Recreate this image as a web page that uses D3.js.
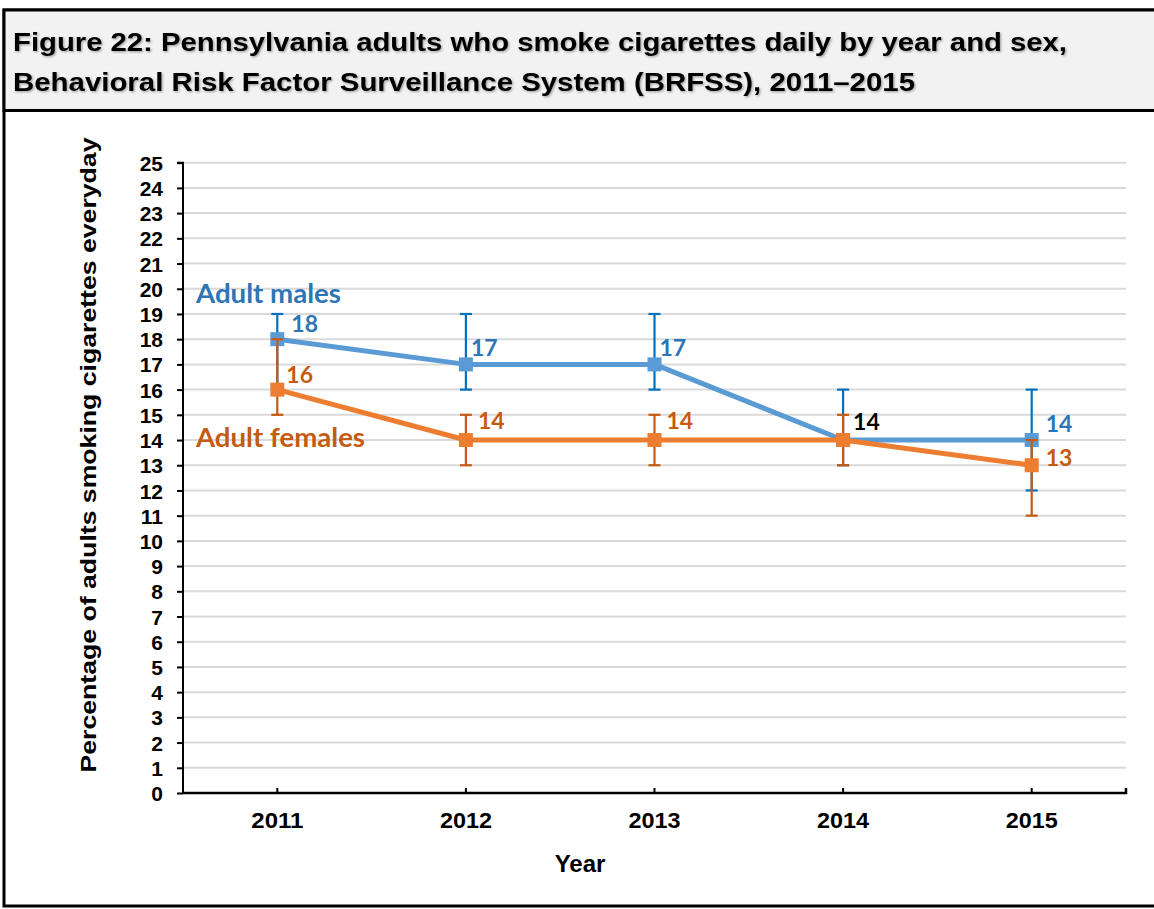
<!DOCTYPE html>
<html>
<head>
<meta charset="utf-8">
<script src="https://cdn.jsdelivr.net/npm/d3@7"></script>
<style>
  html, body { margin: 0; padding: 0; background: #ffffff; }
  svg { display: block; }
</style>
</head>
<body>
<svg id="chart" width="1154" height="909"></svg>
<script>
// ---- Data ----
const years = ["2011", "2012", "2013", "2014", "2015"];
const yTicks = d3.range(0, 26);
const malesValues = [18, 17, 17, 14, 14];
const malesLow = [16, 16, 16, 13, 12];
const malesHigh = [19, 19, 19, 16, 16];
const femalesValues = [16, 14, 14, 14, 13];
const femalesLow = [15, 13, 13, 13, 11];
const femalesHigh = [18, 15, 15, 15, 14];
const malesLabels = ["18", "17", "17", "14", "14"];
const femalesLabels = ["16", "14", "14", "", "13"];
const titleLines = [
  "Figure 22: Pennsylvania adults who smoke cigarettes daily by year and sex,",
  "Behavioral Risk Factor Surveillance System (BRFSS), 2011\u20132015"
];
const yAxisTitle = "Percentage of adults smoking cigarettes everyday";
const xAxisTitle = "Year";
const seriesNames = ["Adult males", "Adult females"];

// ---- Layout ----
const svg = d3.select("#chart");
const W = 1154, H = 909;
const plot = { left: 183, right: 1126, top: 162.7, bottom: 793 };
const arial = "'Liberation Sans', Arial, sans-serif";
const calibri = "Lato, 'Open Sans', sans-serif";

const colors = {
  maleLine: "#5b9bd5", maleErr: "#0070c0", maleLabel: "#2e75b6",
  femaleLine: "#ed7d31", femaleErr: "#c55a11", femaleLabel: "#c55a11",
  grid: "#d9d9d9", titleBg: "#f2f2f2"
};

const defs = svg.append("defs");
const f = defs.append("filter").attr("id", "shadow").attr("x", "-5%").attr("y", "-20%").attr("width", "110%").attr("height", "140%");
f.append("feDropShadow").attr("dx", 1.2).attr("dy", 1.2).attr("stdDeviation", 0.8).attr("flood-color", "#000").attr("flood-opacity", 0.35);

// outer frame and title box
svg.append("rect").attr("x", 4).attr("y", 10).attr("width", W + 10).attr("height", 896)
  .attr("fill", "#fff").attr("stroke", "#000").attr("stroke-width", 3);
svg.append("rect").attr("x", 4).attr("y", 10).attr("width", W + 10).attr("height", 100.5)
  .attr("fill", colors.titleBg).attr("stroke", "#000").attr("stroke-width", 3);

const titleWidths = [1054, 902];
const titleBase = [51, 90.5];
titleLines.forEach((t, i) => {
  svg.append("text").attr("x", 13).attr("y", titleBase[i])
    .attr("font-family", arial).attr("font-weight", "bold").attr("font-size", 26)
    .attr("fill", "#000").attr("filter", "url(#shadow)")
    .attr("textLength", titleWidths[i]).attr("lengthAdjust", "spacingAndGlyphs").text(t);
});

// ---- Scales ----
const x = d3.scaleBand().domain(years).range([plot.left, plot.right]).padding(0);
const cx = d => x(d) + x.bandwidth() / 2;
const y = d3.scaleLinear().domain([0, 25]).range([plot.bottom, plot.top]);

// gridlines
svg.append("g").selectAll("line").data(yTicks.filter(d => d > 0)).join("line")
  .attr("x1", plot.left).attr("x2", plot.right)
  .attr("y1", d => y(d)).attr("y2", d => y(d))
  .attr("stroke", colors.grid).attr("stroke-width", 2);

// y axis
const yAxis = svg.append("g").attr("transform", `translate(${plot.left},0)`)
  .call(d3.axisLeft(y).tickValues(yTicks).tickSize(6).tickPadding(6).tickFormat(d3.format("d")));
yAxis.select(".domain").attr("stroke", "#000").attr("stroke-width", 2).attr("d", `M-6,${y(25)}H0V${y(0)}`);
yAxis.selectAll(".tick line").attr("stroke", "#000").attr("stroke-width", 2);
yAxis.selectAll(".tick text").attr("font-family", arial).attr("font-weight", "bold")
  .attr("font-size", 21).attr("fill", "#000").attr("x", -20).attr("dy", "0.36em");

// x axis
const xAxis = svg.append("g").attr("transform", `translate(0,${plot.bottom})`)
  .call(d3.axisBottom(x).tickSize(0).tickPadding(28));
xAxis.select(".domain").attr("stroke", "#000").attr("stroke-width", 2.5).attr("d", `M${plot.left},0H${plot.right}V-5`);
xAxis.selectAll(".tick").append("line").attr("y1", 0).attr("y2", -5).attr("stroke", "#000").attr("stroke-width", 2);
xAxis.selectAll(".tick text").attr("font-family", arial).attr("font-weight", "bold")
  .attr("font-size", 22).attr("fill", "#000").attr("dy", "0.71em").attr("y", 19)
  .attr("textLength", 52).attr("lengthAdjust", "spacingAndGlyphs");

// axis titles
svg.append("text").attr("transform", `translate(96,455) rotate(-90)`).attr("text-anchor", "middle")
  .attr("font-family", arial).attr("font-weight", "bold").attr("font-size", 22).attr("fill", "#000")
  .attr("textLength", 635).attr("lengthAdjust", "spacingAndGlyphs").text(yAxisTitle);
svg.append("text").attr("x", 580).attr("y", 872).attr("text-anchor", "middle")
  .attr("font-family", arial).attr("font-weight", "bold").attr("font-size", 24).attr("fill", "#000")
  .text(xAxisTitle);

// ---- Series ----
function drawSeries(vals, low, high, errColor) {
  const g = svg.append("g");
  const pts = years.map((yr, i) => ({ yr, v: vals[i], lo: low[i], hi: high[i] }));
  const eb = g.append("g").selectAll("g").data(pts).join("g");
  eb.append("line").attr("x1", d => cx(d.yr)).attr("x2", d => cx(d.yr))
    .attr("y1", d => y(d.lo)).attr("y2", d => y(d.hi)).attr("stroke", errColor).attr("stroke-width", 2.2);
  eb.append("line").attr("x1", d => cx(d.yr) - 6).attr("x2", d => cx(d.yr) + 6)
    .attr("y1", d => y(d.lo)).attr("y2", d => y(d.lo)).attr("stroke", errColor).attr("stroke-width", 2.2);
  eb.append("line").attr("x1", d => cx(d.yr) - 6).attr("x2", d => cx(d.yr) + 6)
    .attr("y1", d => y(d.hi)).attr("y2", d => y(d.hi)).attr("stroke", errColor).attr("stroke-width", 2.2);
  return { g, pts };
}
function drawLine(s, lineColor) {
  s.g.append("path").datum(s.pts)
    .attr("d", d3.line().x(d => cx(d.yr)).y(d => y(d.v)))
    .attr("fill", "none").attr("stroke", lineColor).attr("stroke-width", 5).attr("stroke-linejoin", "round");
  s.g.append("g").selectAll("rect").data(s.pts).join("rect")
    .attr("x", d => cx(d.yr) - 7).attr("y", d => y(d.v) - 7).attr("width", 14).attr("height", 14)
    .attr("fill", lineColor);
}
const m = drawSeries(malesValues, malesLow, malesHigh, colors.maleErr);
drawLine(m, colors.maleLine);
const fm = drawSeries(femalesValues, femalesLow, femalesHigh, colors.femaleErr);
drawLine(fm, colors.femaleLine);

// data labels (offset from point)
const maleOff = [[14, -7], [5, -8], [5, -8], [10, -10], [14, -8]];
const femaleOff = [[9, -7], [12, -11], [12, -11], [0, 0], [14, 1]];
const maleLabelColors = [colors.maleLabel, colors.maleLabel, colors.maleLabel, "#000", colors.maleLabel];
svg.append("g").selectAll("text").data(years).join("text")
  .attr("x", (d, i) => cx(d) + maleOff[i][0]).attr("y", (d, i) => y(malesValues[i]) + maleOff[i][1])
  .attr("font-family", calibri).attr("font-weight", "bold").attr("font-size", 23)
  .attr("fill", (d, i) => maleLabelColors[i]).text((d, i) => malesLabels[i]);
svg.append("g").selectAll("text").data(years).join("text")
  .attr("x", (d, i) => cx(d) + femaleOff[i][0]).attr("y", (d, i) => y(femalesValues[i]) + femaleOff[i][1])
  .attr("font-family", calibri).attr("font-weight", "bold").attr("font-size", 23)
  .attr("fill", colors.femaleLabel).text((d, i) => femalesLabels[i]);

// series name labels
svg.append("text").attr("x", 196).attr("y", 303).attr("font-family", calibri).attr("font-weight", "bold")
  .attr("font-size", 26).attr("fill", colors.maleLabel).attr("textLength", 145).attr("lengthAdjust", "spacingAndGlyphs")
  .text(seriesNames[0]);
svg.append("text").attr("x", 196).attr("y", 447).attr("font-family", calibri).attr("font-weight", "bold")
  .attr("font-size", 26).attr("fill", colors.femaleLabel).attr("textLength", 169).attr("lengthAdjust", "spacingAndGlyphs")
  .text(seriesNames[1]);
</script>
</body>
</html>
